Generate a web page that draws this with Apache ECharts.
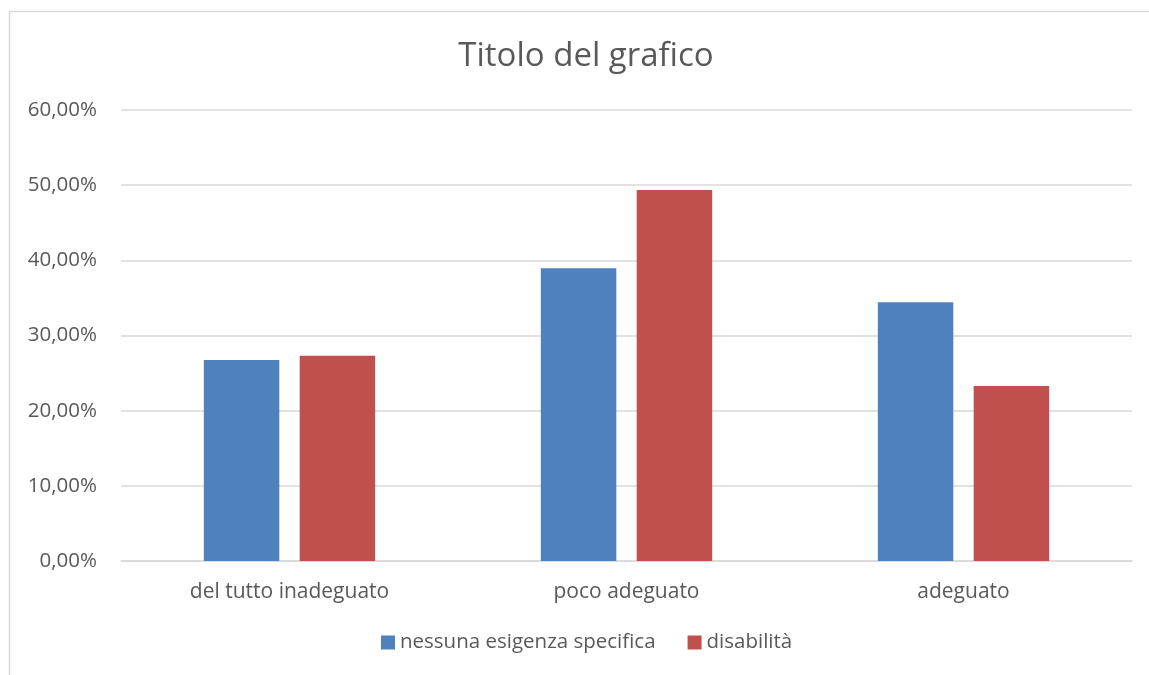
<!DOCTYPE html>
<html>
<head>
<meta charset="utf-8">
<script src="https://cdn.jsdelivr.net/npm/echarts@6/dist/echarts.min.js"></script>
<style>
  html, body { margin: 0; padding: 0; background: #fff; }
  #chart { width: 1149px; height: 675px; }
</style>
</head>
<body>
<div id="chart"></div>
<script>
// Categories and series values (percent)
const categories = ['del tutto inadeguato', 'poco adeguato', 'adeguato'];
const seriesNames = ['nessuna esigenza specifica', 'disabilità'];
const nessunaEsigenza = [26.74, 38.94, 34.41];
const disabilita = [27.31, 49.36, 23.28];
const chartTitle = 'Titolo del grafico';

const FONT = 'Open Sans, Liberation Sans, sans-serif';
const TEXT = '#595959';

const chart = echarts.init(document.getElementById('chart'), null, { renderer: 'canvas' });
chart.setOption({
  backgroundColor: '#fff',
  animation: false,
  title: {
    text: chartTitle,
    left: 581,
    textAlign: 'center',
    top: 35,
    textStyle: { fontFamily: FONT, fontSize: 33, fontWeight: 'normal', color: TEXT }
  },
  legend: {
    data: seriesNames,
    bottom: 17,
    left: 376,
    itemWidth: 14,
    itemHeight: 14,
    itemGap: 32,
    icon: 'rect',
    textStyle: { fontFamily: FONT, fontSize: 20.5, color: TEXT }
  },
  graphic: [{
    type: 'rect',
    shape: { x: 9.5, y: 11.5, width: 1200, height: 700 },
    style: { fill: 'none', stroke: '#d9d9d9', lineWidth: 1.5 },
    silent: true
  }],
  grid: { left: 121, right: 17, top: 110, bottom: 114 },
  xAxis: {
    type: 'category',
    data: categories,
    axisLine: { lineStyle: { color: '#d9d9d9', width: 1.5 } },
    axisTick: { show: false },
    axisLabel: { fontFamily: FONT, fontSize: 21, color: TEXT, margin: 21 }
  },
  yAxis: {
    type: 'value',
    min: 0,
    max: 60,
    interval: 10,
    axisLine: { show: false },
    axisTick: { show: false },
    splitLine: { lineStyle: { color: '#d9d9d9', width: 1.5 } },
    axisLabel: {
      fontFamily: FONT, fontSize: 20.5, color: TEXT, margin: 24,
      formatter: v => v.toFixed(2).replace('.', ',') + '%'
    }
  },
  series: [
    {
      name: seriesNames[0], type: 'bar', data: nessunaEsigenza,
      barWidth: '22.4%', barGap: '27%',
      itemStyle: { color: '#4f81bd' }
    },
    {
      name: seriesNames[1], type: 'bar', data: disabilita,
      barWidth: '22.4%', barGap: '27%',
      itemStyle: { color: '#c0504d' }
    }
  ]
});
</script>
</body>
</html>
